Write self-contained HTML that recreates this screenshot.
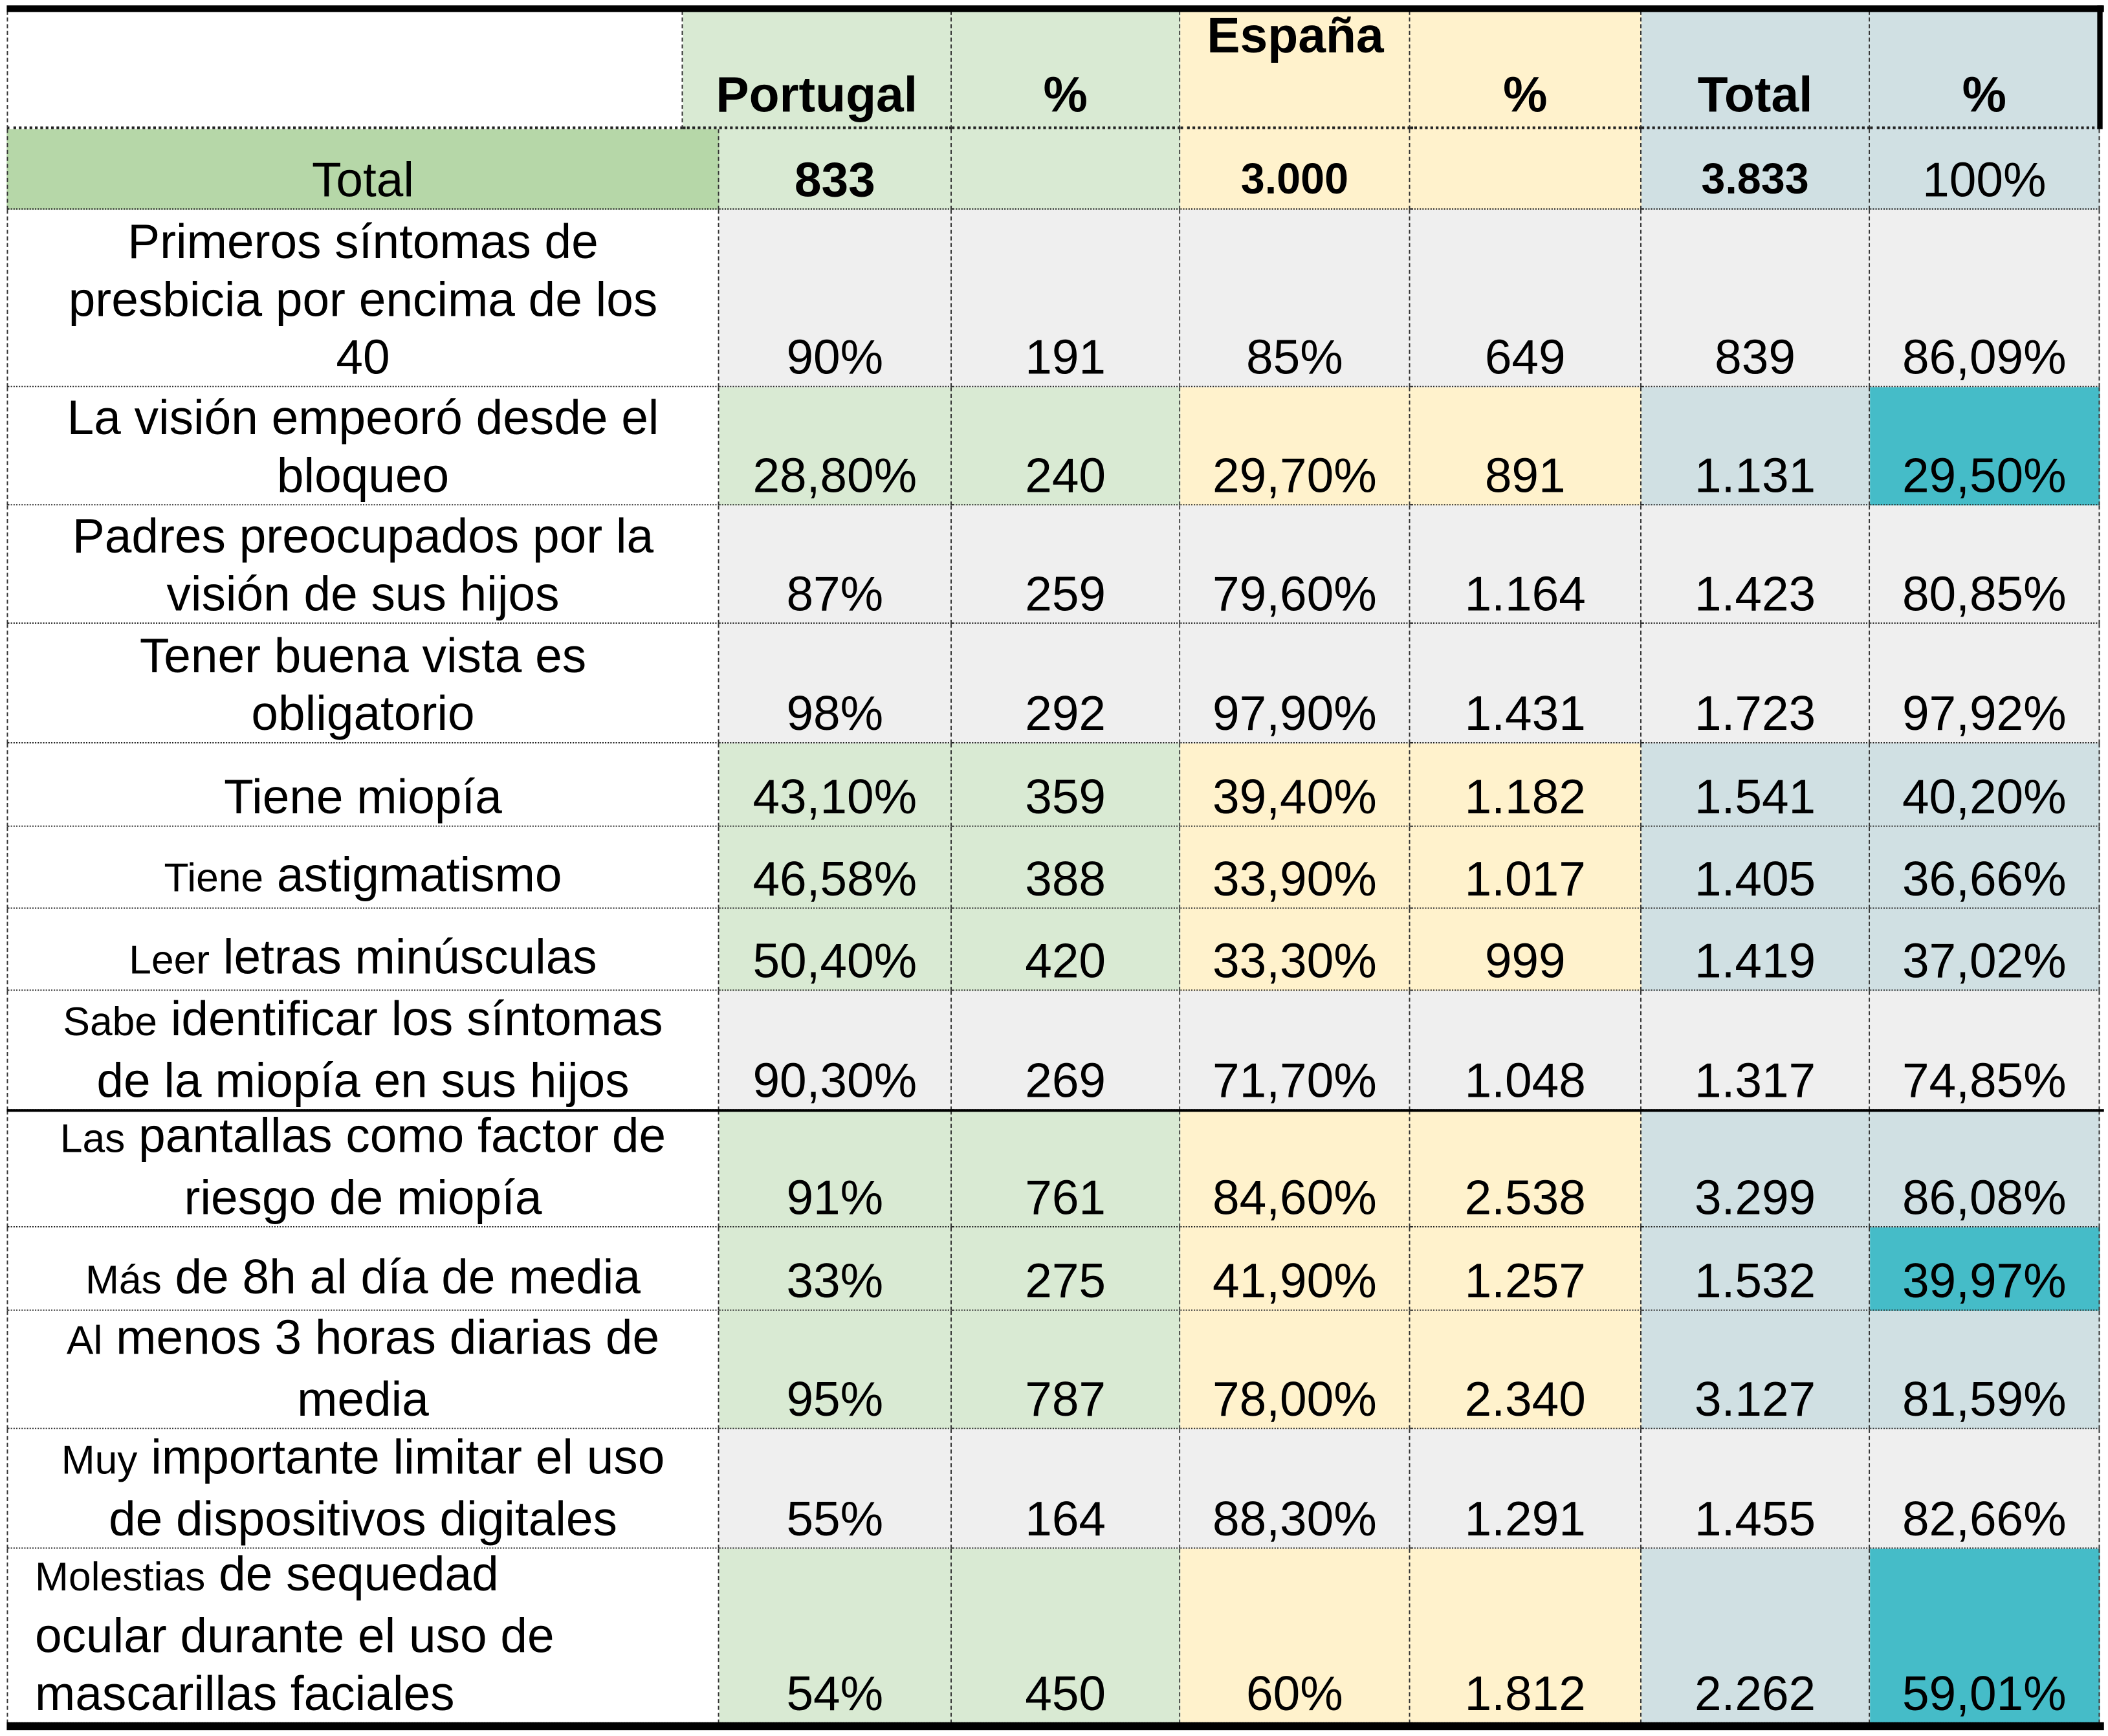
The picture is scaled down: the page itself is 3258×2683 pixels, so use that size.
<!DOCTYPE html>
<html><head><meta charset="utf-8"><style>
html,body{margin:0;padding:0;background:#fff;}
body{width:3258px;height:2683px;overflow:hidden;position:relative;}
#wrap{position:absolute;left:0;top:0;width:1568px;height:1291px;transform:scale(2.0778);transform-origin:0 0;font-family:"Liberation Sans",Arial,sans-serif;color:#000;}
.c{position:absolute;box-sizing:border-box;border-right:1.2px dashed #333;border-bottom:1.4px dotted #222;display:flex;align-items:flex-end;justify-content:center;text-align:center;font-size:36px;line-height:43px;padding-bottom:0px;}
.c>div{width:100%;}
.lab{border-left:1.2px dashed #333;}
.sm{font-size:30px;}
.h{font-weight:bold;font-size:37px;border-bottom:2px dotted #222;}
</style></head><body>
<div id="wrap"></div>
<script>
const colX=[5,535,708,878,1049,1221,1391,1562];
const rowY=[96,156,288,376,464,553,615,676,737,826,913,975,1063,1152,1282];
const labels=[
 ['','Primeros síntomas de<br>presbicia por encima de los<br>40'],
 ['','La visión empeoró desde el<br>bloqueo'],
 ['','Padres preocupados por la<br>visión de sus hijos'],
 ['','Tener buena vista es<br>obligatorio'],
 ['','Tiene miopía'],
 ['Tiene','astigmatismo'],
 ['Leer','letras minúsculas'],
 ['Sabe','identificar los síntomas<br>de la miopía en sus hijos'],
 ['Las','pantallas como factor de<br>riesgo de miopía'],
 ['Más','de 8h al día de media'],
 ['Al','menos 3 horas diarias de<br>media'],
 ['Muy','importante limitar el uso<br>de dispositivos digitales'],
 ['Molestias','de sequedad<br>ocular durante el uso de<br>mascarillas faciales']
];
const portugalPct=['90%','28,80%','87%','98%','43,10%','46,58%','50,40%','90,30%','91%','33%','95%','55%','54%'];
const portugalN=['191','240','259','292','359','388','420','269','761','275','787','164','450'];
const espanaPct=['85%','29,70%','79,60%','97,90%','39,40%','33,90%','33,30%','71,70%','84,60%','41,90%','78,00%','88,30%','60%'];
const espanaN=['649','891','1.164','1.431','1.182','1.017','999','1.048','2.538','1.257','2.340','1.291','1.812'];
const totalN=['839','1.131','1.423','1.723','1.541','1.405','1.419','1.317','3.299','1.532','3.127','1.455','2.262'];
const totalPct=['86,09%','29,50%','80,85%','97,92%','40,20%','36,66%','37,02%','74,85%','86,08%','39,97%','81,59%','82,66%','59,01%'];
const greyRows=[0,2,3,7,11];
const tealRows=[1,9,12];
const colColors=['#d9ead3','#d9ead3','#fff2cc','#fff2cc','#d0e0e3','#d0e0e3'];
const W=document.getElementById('wrap');
function cell(x,y,w,h,html,bg,cls,name){
 const d=document.createElement('div');
 d.className='c '+(cls||'');
 d.style.left=x+'px';d.style.top=y+'px';d.style.width=w+'px';d.style.height=h+'px';
 if(bg)d.style.background=bg;
 d.innerHTML='<div>'+html+'</div>';
 
 
 W.appendChild(d);return d;
}
cell(5,8,503,88,'','#fff','lab h','header-blank');
const hdr=['Portugal','%','','%','Total','%'];
const hx=[508,708,878,1049,1221,1391];
for(let i=0;i<6;i++){
 const d=cell(hx[i],8,(i<5?hx[i+1]:1562)-hx[i],88,hdr[i],colColors[i],'h','header-'+(i));
 d.style.paddingBottom='2px';
}
const es=document.createElement('div');
es.textContent='España';


es.style.cssText='position:absolute;left:878px;width:171px;top:6px;text-align:center;font-weight:bold;font-size:37px;line-height:42px;';
W.appendChild(es);
const tot=['833','','3.000','','3.833','100%'];
cell(5,96,530,60,'Total','#b6d7a8','lab','total-label');
for(let i=0;i<6;i++){
 const d=cell(colX[i+1],96,colX[i+2]-colX[i+1],60,tot[i],colColors[i],'','total-'+i);
 if(i<5&&tot[i])d.style.fontWeight='bold';
 if(i==2||i==4)d.style.fontSize='32px';
}
for(let r=0;r<labels.length;r++){
 const y=rowY[r+1],h=rowY[r+2]-y;
 const L=labels[r];
 const lh=(L[0]?'<span class="sm">'+L[0]+'</span> ':'')+L[1];
 const lc=cell(5,y,530,h,lh,'#fff','lab','row-label-'+r);
 if(r===12){lc.style.textAlign='left';lc.firstChild.style.textAlign='left';lc.style.paddingLeft='20px';}
 const vals=[portugalPct[r],portugalN[r],espanaPct[r],espanaN[r],totalN[r],totalPct[r]];
 for(let i=0;i<6;i++){
  let bg=greyRows.includes(r)?'#efefef':colColors[i];
  if(i===5&&tealRows.includes(r))bg='#45bcc8';
  cell(colX[i+1],y,colX[i+2]-colX[i+1],h,vals[i],bg,'','row-'+r+'-col-'+i);
 }
}
function bar(x,y,w,h,name){const d=document.createElement('div');d.style.cssText='position:absolute;background:#000;left:'+x+'px;top:'+y+'px;width:'+w+'px;height:'+h+'px;';
 
 
 W.appendChild(d);}
bar(5,4,1560,5,'top-rule');
bar(1560,4,4,92,'header-right-rule');
bar(5,825,1560,2,'section-rule');
bar(5,1281,1560,6,'bottom-rule');
</script>
</body></html>
